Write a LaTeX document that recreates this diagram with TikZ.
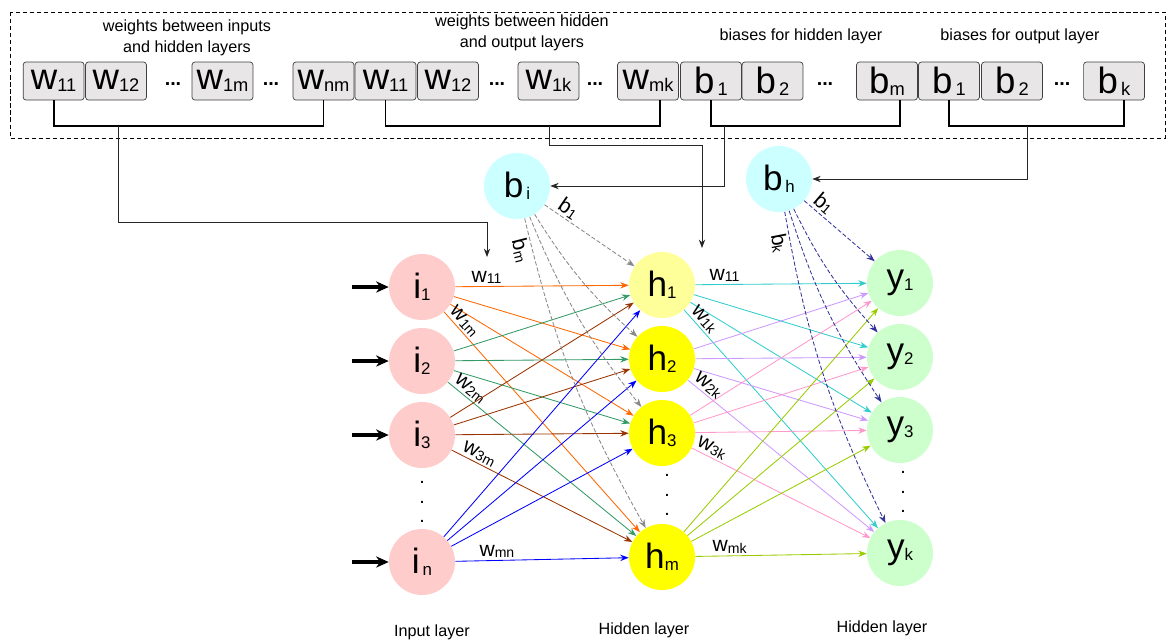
\documentclass[tikz,border=0pt]{standalone}
\usepackage{fontspec}
\setmainfont{Liberation Sans}
\usetikzlibrary{arrows.meta,positioning}
\definecolor{inpink}{HTML}{FFCCCC}
\definecolor{hidpale}{HTML}{FFFF99}
\definecolor{hidyellow}{HTML}{FFFF00}
\definecolor{outgreen}{HTML}{CCFFCC}
\definecolor{biascyan}{HTML}{CCFFFF}
\definecolor{cellgray}{HTML}{E8E6E6}
\definecolor{worange}{HTML}{FF6600}
\definecolor{wgreen}{HTML}{339966}
\definecolor{wbrown}{HTML}{993300}
\definecolor{wblue}{HTML}{0000FF}
\definecolor{wcyan}{HTML}{33CCCC}
\definecolor{wlilac}{HTML}{CC99FF}
\definecolor{wpink}{HTML}{FF99CC}
\definecolor{wlime}{HTML}{99CC00}
\definecolor{bgray}{HTML}{888888}
\definecolor{bnavy}{HTML}{333399}
\tikzstyle{unit}=[circle,minimum size=1.65cm,inner sep=0pt]
\tikzstyle{inunit}=[unit,fill=inpink]
\tikzstyle{hidunit}=[unit,fill=hidyellow]
\tikzstyle{outunit}=[unit,fill=outgreen]
\tikzstyle{biasunit}=[unit,fill=biascyan]
\tikzstyle{cell}=[draw=black!75,line width=0.5pt,fill=cellgray,rounded corners=2pt,minimum width=1.52cm,minimum height=0.95cm,inner sep=0pt]
\tikzstyle{caption}=[align=center,font=\fontsize{11.5}{14.5}\selectfont]
\tikzstyle{dots}=[align=center,inner sep=0pt,font=\fontsize{14}{14}\selectfont]
\tikzstyle{wire}=[line width=0.6pt,-{Stealth[length=6pt,width=4.5pt]}]
\tikzstyle{biaswire}=[wire,dash pattern=on 3pt off 1.5pt]
\tikzstyle{wlab}=[text=black,inner sep=1.5pt]
\tikzstyle{bracket}=[line width=1.4pt]
\tikzstyle{feed}=[line width=0.6pt,black!85,-{Stealth[length=6pt,width=4.5pt]}]
\tikzstyle{push}=[line width=2.6pt,-{Stealth[length=9pt,width=8pt]}]
\newcommand{\unitlab}[2]{{\fontsize{25}{25}\selectfont #1}{\fontsize{12}{12}\selectfont\raisebox{-1.5pt}{#2}}}
\newcommand{\celllab}[2]{{\fontsize{26}{26}\selectfont #1}{\fontsize{13}{13}\selectfont\raisebox{-1.5pt}{#2}}}
\newcommand{\wirelab}[2]{{\fontsize{15}{15}\selectfont #1}{\fontsize{10}{10}\selectfont\raisebox{-1pt}{#2}}}
\begin{document}
\begin{tikzpicture}[x=0.025cm,y=-0.025cm]
\useasboundingbox (0,0) rectangle (1166,641);
\draw[line width=0.5pt,dash pattern=on 3pt off 2pt] (10,12) rectangle (1165,138);
\draw (187,38) node [caption] (t1) {weights between inputs\\and hidden layers};
\draw (522,33) node [caption] (t2) {weights between hidden\\and output layers};
\draw (801,36) node [caption] (t3) {biases for hidden layer};
\draw (1020,36) node [caption] (t4) {biases for output layer};
\draw (53.6,81) node [cell] (c1) {\celllab{w}{11}};
\draw (116,81) node [cell] (c2) {\celllab{w}{12}};
\draw (222.5,81) node [cell] (c3) {\celllab{w}{1m}};
\draw (323.5,81) node [cell] (c4) {\celllab{w}{nm}};
\draw (385.5,81) node [cell] (c5) {\celllab{w}{11}};
\draw (448,81) node [cell] (c6) {\celllab{w}{12}};
\draw (548.5,81) node [cell] (c7) {\celllab{w}{1k}};
\draw (648,81) node [cell] (c8) {\celllab{w}{mk}};
\draw (711,81) node [cell] (c9) {\celllab{b}{\,1}};
\draw (772.5,81) node [cell] (c10) {\celllab{b}{\,2}};
\draw (887,81) node [cell] (c11) {\celllab{b}{m}};
\draw (949,81) node [cell] (c12) {\celllab{b}{\,1}};
\draw (1012,81) node [cell] (c13) {\celllab{b}{\,2}};
\draw (1114,81) node [cell] (c14) {\celllab{b}{\,k}};
\draw (173,84) node [dots] (e1) {\textbf{...}};
\draw (271,84) node [dots] (e2) {\textbf{...}};
\draw (497,84) node [dots] (e3) {\textbf{...}};
\draw (595,84) node [dots] (e4) {\textbf{...}};
\draw (825,84) node [dots] (e5) {\textbf{...}};
\draw (1062,84) node [dots] (e6) {\textbf{...}};
\draw[bracket] (c1.south) -- ++(0,26) -| (c4.south);
\draw[bracket] (c5.south) -- ++(0,26) -| ([xshift=0.3cm]c8.south);
\draw[bracket] (c9.south) -- ++(0,26) -| ([xshift=0.33cm]c11.south);
\draw[bracket] (c12.south) -- ++(0,26) -| ([xshift=0.25cm]c14.south);
\draw (517,186) node [biasunit] (bi) {\unitlab{b}{\,i}};
\draw (779,179) node [biasunit] (bh) {\unitlab{b}{\,h}};
\draw (422,287) node [inunit] (i1) {\unitlab{i}{1}};
\draw (422,361) node [inunit] (i2) {\unitlab{i}{2}};
\draw (422,435) node [inunit] (i3) {\unitlab{i}{3}};
\draw (422,562) node [inunit] (in) {\unitlab{i}{\,n}};
\draw (662,285) node [hidunit,fill=hidpale] (h1) {\unitlab{h}{1}};
\draw (662,359) node [hidunit] (h2) {\unitlab{h}{2}};
\draw (662,433) node [hidunit] (h3) {\unitlab{h}{3}};
\draw (662,557) node [hidunit] (hm) {\unitlab{h}{m}};
\draw (900,283) node [outunit] (y1) {\unitlab{y}{1}};
\draw (900,357) node [outunit] (y2) {\unitlab{y}{2}};
\draw (900,430) node [outunit] (y3) {\unitlab{y}{3}};
\draw (900,553) node [outunit] (yk) {\unitlab{y}{k}};
\draw (422,502) node [dots] (idots) {.\\.\\.};
\draw (667,495) node [dots] (hdots) {.\\.\\.};
\draw (903,492) node [dots] (ydots) {.\\.\\.};
\draw (432,632) node [caption] (l1) {Input layer};
\draw (644,630) node [caption] (l2) {Hidden layer};
\draw (882,628) node [caption] (l3) {Hidden layer};
\coordinate (tapA) at (118,126);
\coordinate (tapB) at (549,126);
\coordinate (tapC) at (724,126);
\coordinate (tapD) at (1027,126);
\coordinate (dropA) at (487,257);
\coordinate (dropB) at (702,248);
\draw[feed] (tapA) -- ++(0,96) -| (dropA);
\draw[feed] (tapB) -- ++(0,19) -| (dropB);
\draw[feed] (tapC) |- (bi);
\draw[feed] (tapD) |- (bh);
\coordinate (x1) at (352,287);
\coordinate (x2) at (352,361);
\coordinate (x3) at (352,435);
\coordinate (xn) at (352,562);
\draw[push] (x1) -- (i1);
\draw[push] (x2) -- (i2);
\draw[push] (x3) -- (i3);
\draw[push] (xn) -- (in);
\draw[wire,worange] (i1) -- node [wlab,above,pos=0.18] (lw11) {\wirelab{w}{11}} (h1);
\draw[wire,worange] (i1) -- (h2);
\draw[wire,worange] (i1) -- (h3);
\draw[wire,worange] (i1) -- node [wlab,sloped,above,pos=0.07] (lw1m) {\wirelab{w}{1m}} (hm);
\draw[wire,wgreen] (i2) -- (h1);
\draw[wire,wgreen] (i2) -- (h2);
\draw[wire,wgreen] (i2) -- (h3);
\draw[wire,wgreen] (i2) -- node [wlab,sloped,above,pos=0.09] (lw2m) {\wirelab{w}{2m}} (hm);
\draw[wire,wbrown] (i3) -- (h1);
\draw[wire,wbrown] (i3) -- (h2);
\draw[wire,wbrown] (i3) -- (h3);
\draw[wire,wbrown] (i3) -- node [wlab,sloped,above,pos=0.13] (lw3m) {\wirelab{w}{3m}} (hm);
\draw[wire,wblue] (in) -- (h1);
\draw[wire,wblue] (in) -- (h2);
\draw[wire,wblue] (in) -- (h3);
\draw[wire,wblue] (in) -- node [wlab,above,pos=0.24] (lwmn) {\wirelab{w}{mn}} (hm);
\draw[wire,wcyan] (h1) -- node [wlab,above,pos=0.17] (lv11) {\wirelab{w}{11}} (y1);
\draw[wire,wcyan] (h1) -- (y2);
\draw[wire,wcyan] (h1) -- (y3);
\draw[wire,wcyan] (h1) -- node [wlab,sloped,above,pos=0.07] (lv1k) {\wirelab{w}{1k}} (yk);
\draw[wire,wlilac] (h2) -- (y1);
\draw[wire,wlilac] (h2) -- (y2);
\draw[wire,wlilac] (h2) -- (y3);
\draw[wire,wlilac] (h2) -- node [wlab,sloped,above,pos=0.08] (lv2k) {\wirelab{w}{2k}} (yk);
\draw[wire,wpink] (h3) -- (y1);
\draw[wire,wpink] (h3) -- (y2);
\draw[wire,wpink] (h3) -- (y3);
\draw[wire,wpink] (h3) -- node [wlab,sloped,above,pos=0.09] (lv3k) {\wirelab{w}{3k}} (yk);
\draw[wire,wlime] (hm) -- (y1);
\draw[wire,wlime] (hm) -- (y2);
\draw[wire,wlime] (hm) -- (y3);
\draw[wire,wlime] (hm) -- node [wlab,above,pos=0.2] (lvmk) {\wirelab{w}{mk}} (yk);
\draw[biaswire,bgray] (bi) -- node [wlab,sloped,above,pos=0.2] (lb1) {\wirelab{b}{1}} (h1);
\draw[biaswire,bgray] (bi) to [bend right=8] (h2);
\draw[biaswire,bgray] (bi) to [bend right=8] (h3);
\draw[biaswire,bgray] (bi) to [bend right=8] node [wlab,sloped,below,pos=0.08] (lbm) {\wirelab{b}{m}} (hm);
\draw[biaswire,bnavy] (bh) -- node [wlab,sloped,above,pos=0.18] (lc1) {\wirelab{b}{1}} (y1);
\draw[biaswire,bnavy] (bh) to [bend right=8] (y2);
\draw[biaswire,bnavy] (bh) to [bend right=8] (y3);
\draw[biaswire,bnavy] (bh) to [bend right=8] node [wlab,sloped,below,pos=0.08] (lck) {\wirelab{b}{k}} (yk);
\end{tikzpicture}
\end{document}
